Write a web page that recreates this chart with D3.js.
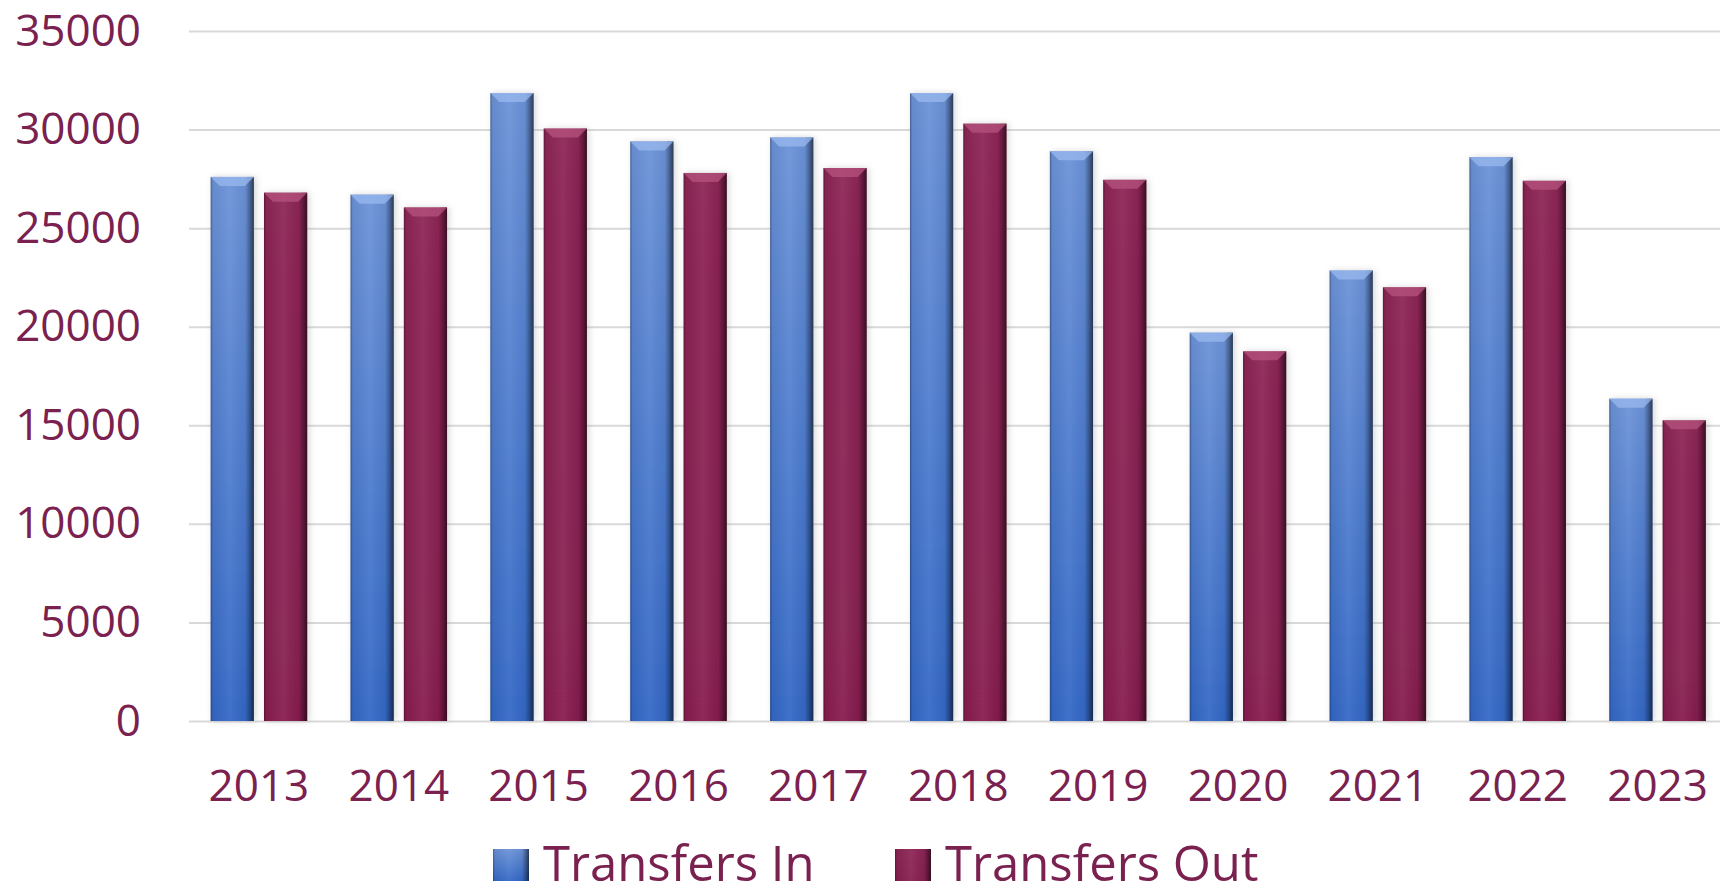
<!DOCTYPE html>
<html>
<head>
<meta charset="utf-8">
<script src="https://cdn.jsdelivr.net/npm/d3@7"></script>
<style>
  body { margin: 0; background: #fff; }
  svg { display: block; font-family: "Open Sans", sans-serif; }
</style>
</head>
<body>
<div id="chart"></div>
<script>
// Chart data
var years = ["2013", "2014", "2015", "2016", "2017", "2018", "2019", "2020", "2021", "2022", "2023"];
var transfersIn = [27600, 26700, 31850, 29400, 29600, 31850, 28900, 19700, 22850, 28600, 16350];
var transfersOut = [26800, 26050, 30050, 27800, 28050, 30300, 27450, 18750, 22000, 27400, 15250];
var seriesNames = ["Transfers In", "Transfers Out"];
var yTicks = [0, 5000, 10000, 15000, 20000, 25000, 30000, 35000];

var svgWidth = 1720;
var svgHeight = 895;
var margin = { top: 31, right: 0, bottom: 174, left: 189 };
var width = svgWidth - margin.left - margin.right;
var height = svgHeight - margin.top - margin.bottom;

var textColor = "#7a2150";
var fontFamily = "'Open Sans', sans-serif";

var svg = d3.select("#chart")
  .append("svg")
  .attr("width", svgWidth)
  .attr("height", svgHeight);

// gradients and shadow
var defs = svg.append("defs");

function vGrad(id, top, bottom) {
  var g = defs.append("linearGradient").attr("id", id)
    .attr("x1", 0).attr("y1", 0).attr("x2", 0).attr("y2", 1);
  g.append("stop").attr("offset", "0%").attr("stop-color", top);
  g.append("stop").attr("offset", "100%").attr("stop-color", bottom);
}
vGrad("grad-in", "#6c93d8", "#3468c6");
vGrad("grad-out", "#8d2556", "#871f50");

var side = defs.append("linearGradient").attr("id", "grad-side")
  .attr("x1", 0).attr("y1", 0).attr("x2", 1).attr("y2", 0);
[[0, "#000", 0.35], [0.05, "#000", 0.05], [0.45, "#fff", 0.06], [0.8, "#000", 0.04],
 [0.9, "#000", 0.3], [1, "#000", 0.6]].forEach(function(s) {
  side.append("stop").attr("offset", s[0]).attr("stop-color", s[1]).attr("stop-opacity", s[2]);
});

var shadow = defs.append("filter").attr("id", "shadow")
  .attr("x", "-30%").attr("y", "-10%").attr("width", "160%").attr("height", "120%");
shadow.append("feDropShadow")
  .attr("dx", 2).attr("dy", 0).attr("stdDeviation", 3)
  .attr("flood-color", "#888").attr("flood-opacity", 0.35);

var chartGroup = svg.append("g")
  .attr("transform", `translate(${margin.left}, ${margin.top})`);

// scales
var x0 = d3.scaleBand()
  .domain(years)
  .range([0, 1538.5])
  .padding(0);

var x1 = d3.scaleBand()
  .domain(seriesNames)
  .range([x0.bandwidth() * 0.155, x0.bandwidth() * 0.845])
  .paddingInner(0.19);

var yScale = d3.scaleLinear()
  .domain([0, 35000])
  .range([height, 0]);

// y axis with gridlines
var leftAxis = d3.axisLeft(yScale)
  .tickValues(yTicks)
  .tickSize(-width)
  .tickPadding(48)
  .tickFormat(d3.format("d"));

var yAxisG = chartGroup.append("g").call(leftAxis)
  .attr("font-family", fontFamily);
yAxisG.select(".domain").remove();
yAxisG.selectAll(".tick line").attr("stroke", "#d9d9d9").attr("stroke-width", 2);
yAxisG.selectAll(".tick text")
  .style("font-size", "44px")
  .attr("fill", textColor);

// x axis labels
var bottomAxis = d3.axisBottom(x0).tickSize(0).tickPadding(49);
var xAxisG = chartGroup.append("g")
  .attr("transform", `translate(0, ${height})`)
  .call(bottomAxis)
  .attr("font-family", fontFamily);
xAxisG.select(".domain").remove();
xAxisG.selectAll(".tick text")
  .style("font-size", "44px")
  .attr("fill", textColor);

// bars
var rows = years.map(function(y, i) {
  return { year: y, values: [
    { key: "Transfers In", value: transfersIn[i], fill: "url(#grad-in)", bevel: "#9ab8ee" },
    { key: "Transfers Out", value: transfersOut[i], fill: "url(#grad-out)", bevel: "#b5537e" }
  ] };
});

var groups = chartGroup.selectAll(".year")
  .data(rows)
  .enter()
  .append("g")
  .attr("class", "year")
  .attr("transform", d => `translate(${x0(d.year)}, 0)`);

var bars = groups.selectAll(".bar")
  .data(d => d.values)
  .enter()
  .append("g")
  .attr("class", "bar");

bars.append("rect")
  .attr("x", d => x1(d.key))
  .attr("y", d => yScale(d.value))
  .attr("width", x1.bandwidth())
  .attr("height", d => height - yScale(d.value))
  .attr("fill", d => d.fill)
  .attr("filter", "url(#shadow)");

bars.append("rect")
  .attr("x", d => x1(d.key))
  .attr("y", d => yScale(d.value))
  .attr("width", x1.bandwidth())
  .attr("height", d => height - yScale(d.value))
  .attr("fill", "url(#grad-side)");

// top bevel
bars.append("path")
  .attr("d", function(d) {
    var bx = x1(d.key), by = yScale(d.value), w = x1.bandwidth(), b = 9;
    return `M${bx},${by}L${bx + w},${by}L${bx + w - b},${by + b}L${bx + b},${by + b}Z`;
  })
  .attr("fill", d => d.bevel)
  .attr("opacity", 0.75);

// legend
var legendData = [
  { name: seriesNames[0], fill: "url(#grad-in)", x: 493 },
  { name: seriesNames[1], fill: "url(#grad-out)", x: 895 }
];

var legend = svg.selectAll(".legend")
  .data(legendData)
  .enter()
  .append("g")
  .attr("class", "legend")
  .attr("transform", d => `translate(${d.x}, 849)`);

legend.append("rect")
  .attr("width", 36)
  .attr("height", 32)
  .attr("fill", d => d.fill);

legend.append("rect")
  .attr("width", 36)
  .attr("height", 32)
  .attr("fill", "url(#grad-side)");

legend.append("text")
  .attr("x", 50)
  .attr("y", 32)
  .attr("font-family", fontFamily)
  .style("font-size", "49px")
  .attr("fill", textColor)
  .text(d => d.name);
</script>
</body>
</html>
